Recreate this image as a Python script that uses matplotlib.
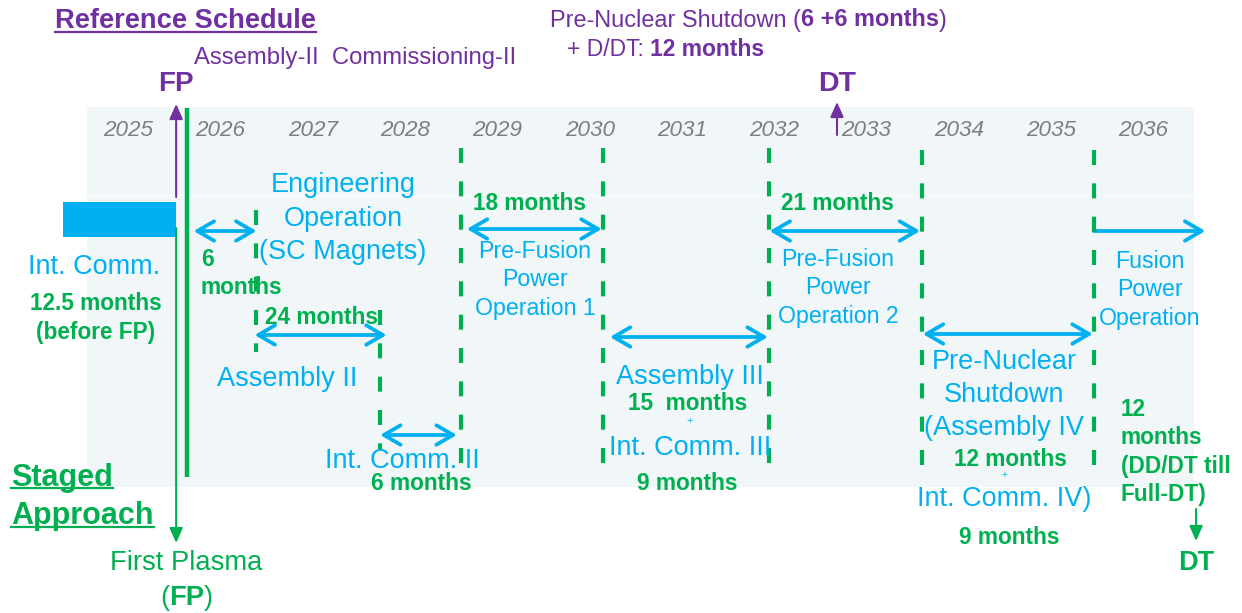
import matplotlib
matplotlib.use('Agg')
import matplotlib.pyplot as plt
from matplotlib.patches import Rectangle

plt.rcParams['font.family'] = ['Liberation Sans', 'DejaVu Sans']

CYAN = '#00b0f0'
GREEN = '#00b050'
PURPLE = '#7030a0'
GRAY = '#7f7f7f'
BG = '#f1f6f9'

# timeline data (fractional calendar years)
years = list(range(2025, 2037))
ic_start = 2024.79          # integrated commissioning before FP
first_plasma = 2026.02
fp_line = 2026.14
dt_reference = 2033.18
dt_staged = 2037.07

# phase boundaries (dashed green lines) and their vertical extent (row units)
milestones = [2026.89, 2028.23, 2029.11, 2030.65, 2032.44, 2034.10, 2035.96]
milestone_top = [210, 310, 148, 148, 148, 150, 150]
milestone_bottom = [352, 450, 463, 465, 465, 468, 468]

# duration arrows
phase_start = [2026.21, 2026.87, 2028.23, 2029.17, 2030.72, 2032.45, 2034.11, 2035.96]
phase_end = [2026.89, 2028.30, 2029.06, 2030.63, 2032.43, 2034.08, 2035.95, 2037.17]
phase_row = [231, 335, 435, 229, 337, 231, 334, 231]
phase_style = ['<->'] * 7 + ['->']

# pixel -> year helper for label placement
PX0, PXY = 82, 92.3


def X(p):
    return 2025 + (p - PX0) / PXY


fig = plt.figure(figsize=(12.42, 6.13), dpi=100)
ax = fig.add_axes([0, 0, 1, 1])
ax.set_xlim(X(0), X(1242))
ax.set_ylim(613, 0)
ax.axis('off')

# background band
ax.add_patch(Rectangle((X(87), 107), X(1194) - X(87), 487 - 107,
                       facecolor=BG, edgecolor='none', zorder=0))
ax.plot([X(87), X(1194)], [195, 195], color='white', lw=1, alpha=0.6, zorder=0.5)

# integrated commissioning bar
ax.barh(219.5, first_plasma - ic_start, height=35, left=ic_start, color=CYAN, zorder=2)

# year labels
for y in years:
    ax.text(y + 0.5, 130, str(y), ha='center', va='center', style='italic',
            fontsize=16.2, color=GRAY)

# FP line
ax.plot([fp_line, fp_line], [108, 477], color=GREEN, lw=3.2, solid_capstyle='butt', zorder=3)

# dashed milestones
for m, t, b in zip(milestones, milestone_top, milestone_bottom):
    ax.plot([m, m], [t, b], color=GREEN, lw=3, dashes=(3.6, 4.4), zorder=4)

# duration arrows
for s, e, r, st in zip(phase_start, phase_end, phase_row, phase_style):
    ax.annotate('', xy=(e, r), xytext=(s, r),
                arrowprops=dict(arrowstyle=st + ',head_length=0.6,head_width=0.35',
                                color=CYAN, lw=2.7, shrinkA=0, shrinkB=0,
                                mutation_scale=20), zorder=3)

# FP / DT markers
small_head = '-|>,head_length=0.45,head_width=0.2'
ax.annotate('', xy=(first_plasma, 104), xytext=(first_plasma, 197),
            arrowprops=dict(arrowstyle=small_head, color=PURPLE, lw=1.5,
                            shrinkA=0, shrinkB=0, mutation_scale=20))
ax.annotate('', xy=(first_plasma, 543), xytext=(first_plasma, 228),
            arrowprops=dict(arrowstyle=small_head, color=GREEN, lw=1.5,
                            shrinkA=0, shrinkB=0, mutation_scale=20))
ax.annotate('', xy=(dt_reference, 102), xytext=(dt_reference, 135),
            arrowprops=dict(arrowstyle=small_head, color=PURPLE, lw=1.5,
                            shrinkA=0, shrinkB=0, mutation_scale=20))
ax.annotate('', xy=(dt_staged, 541), xytext=(dt_staged, 509),
            arrowprops=dict(arrowstyle=small_head, color=GREEN, lw=1.5,
                            shrinkA=0, shrinkB=0, mutation_scale=20))


def lines(px, rows, text, ha='center', **kw):
    for r, s in zip(rows, text.split('\n')):
        ax.text(X(px), r, s, ha=ha, va='center', zorder=5, **kw)


def chain(px, row, parts, **kw):
    prev = ax.text(X(px), row, parts[0][0], ha='left', va='center',
                   fontweight=parts[0][1], **kw)
    for s, w in parts[1:]:
        prev = ax.annotate(s, xy=(1, 0.5), xycoords=prev, ha='left', va='center',
                           fontweight=w, **kw)


# reference schedule header (purple)
ref = ax.text(X(55), 28, 'Reference Schedule', ha='left', va='baseline',
              fontsize=19.6, fontweight='bold', color=PURPLE)
ax.text(X(194), 58, 'Assembly-II  Commissioning-II', ha='left', va='center',
        fontsize=17.2, color=PURPLE)
ax.text(X(176), 84, 'FP', ha='center', va='center', fontsize=20, fontweight='bold', color=PURPLE)
ax.text(dt_reference, 84, 'DT', ha='center', va='center', fontsize=20.5,
        fontweight='bold', color=PURPLE)
chain(550, 20, [('Pre-Nuclear Shutdown (', 'normal'), ('6 +6 months', 'bold'),
                (')', 'normal')], fontsize=16.9, color=PURPLE)
chain(567, 50, [('+ D/DT: ', 'normal'), ('12 months', 'bold')], fontsize=16.5, color=PURPLE)

# cyan phase labels
big = dict(fontsize=19.5, color=CYAN)
mid = dict(fontsize=16.7, color=CYAN)
lines(343, [185, 219, 252], 'Engineering\nOperation\n(SC Magnets)', **big)
lines(94, [267], 'Int. Comm.', **big)
lines(287, [379], 'Assembly II', **big)
lines(402, [461], 'Int. Comm. II', **big)
lines(535, [251, 279, 308], 'Pre-Fusion\nPower\nOperation 1', **mid)
lines(838, [259, 287, 316], 'Pre-Fusion\nPower\nOperation 2', **mid)
lines(690, [377], 'Assembly III', **big)
lines(690, [448], 'Int. Comm. III', **big)
lines(1004, [362, 395, 428], 'Pre-Nuclear\nShutdown\n(Assembly IV', **big)
lines(1004, [499], 'Int. Comm. IV)', **big)
lines(1150, [261, 290, 318], 'Fusion\nPower\nOperation', **mid)
lines(690, [421], '+', fontsize=8, color=CYAN)
lines(1004, [475], '+', fontsize=7, color=CYAN)

# green durations
gb = dict(fontsize=16.3, color=GREEN, fontweight='bold')
lines(96, [303, 332], '12.5 months\n(before FP)', **gb)
lines(201, [259, 287], '6\nmonths', ha='left', **gb)
lines(321, [317], '24 months', **gb)
lines(421, [484], '6 months', **gb)
lines(529, [204], '18 months', **gb)
lines(837, [204], '21 months', **gb)
lines(688, [404], '15  months', **gb)
lines(687, [484], '9 months', **gb)
lines(1010, [460], '12 months', **gb)
lines(1009, [538], '9 months', **gb)
lines(1121, [409, 438, 466, 495], '12\nmonths\n(DD/DT till\nFull-DT)', ha='left', **gb)
ax.text(dt_staged, 563, 'DT', ha='center', va='center', fontsize=19.5,
        fontweight='bold', color=GREEN)

# staged approach
st1 = ax.text(X(11), 486, 'Staged', ha='left', va='baseline', fontsize=22,
              fontweight='bold', color=GREEN)
st2 = ax.text(X(11), 524, 'Approach', ha='left', va='baseline', fontsize=22,
              fontweight='bold', color=GREEN)
lines(186, [563], 'First Plasma', fontsize=19.7, color=GREEN)
chain(160, 598, [('(', 'normal'), ('FP', 'bold'), (')', 'normal')], fontsize=19.7, color=GREEN)

# underlines
fig.canvas.draw()
inv = ax.transData.inverted()
for t, row in [(ref, 32), (st1, 488), (st2, 527)]:
    bb = t.get_window_extent()
    x0 = inv.transform((bb.x0, 0))[0]
    x1 = inv.transform((bb.x1, 0))[0]
    ax.plot([x0, x1], [row, row], color=t.get_color(), lw=1.6)

fig.savefig('out.png', dpi=100)
